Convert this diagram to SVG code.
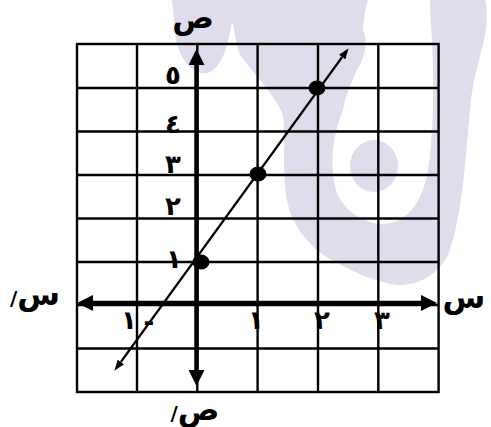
<svg xmlns="http://www.w3.org/2000/svg" width="491" height="427" viewBox="0 0 491 427">
<style>
.grid{stroke:#000;stroke-width:2.4;fill:none}
.axis{stroke:#000;stroke-width:4.5;fill:none}
.lin{stroke:#000;stroke-width:2.4;fill:none}
.dot{fill:#000}
.num{font-family:"DejaVu Sans",sans-serif;font-weight:bold;font-size:26px;fill:#000;text-anchor:middle}
.lbl{font-family:"DejaVu Sans",sans-serif;font-weight:bold;font-size:31px;fill:#000;text-anchor:middle}
.pr{font-size:20px}
.wm{fill:#e0dcec}
</style>
<defs>
<marker id="axArrow" viewBox="0 0 16 16" refX="0" refY="8" markerWidth="16" markerHeight="16" markerUnits="userSpaceOnUse" orient="auto-start-reverse"><path d="M0,0 L16,8 L0,16 Z" fill="#000"/></marker>
<marker id="lnArrow" viewBox="0 0 11 8" refX="0" refY="4" markerWidth="11" markerHeight="8" markerUnits="userSpaceOnUse" orient="auto-start-reverse"><path d="M0,0 L11,4 L0,8 Z" fill="#000"/></marker>
</defs>
<g id="watermark">
<path class="wm" d="M172,0 L368,0 C364,12 364,22 363,30 C368,40 366,55 357,70 C350,85 345,98 343,110 C335,130 331,150 333,175 C335,200 350,218 378,224 C405,226 422,205 428,170 C434,130 434,80 432,40 C431,25 430,12 430,0 L485,0 C492,30 476,60 471,100 C465,160 463,215 448,255 C435,280 410,288 390,284 C365,278 345,268 325,256 C305,242 290,222 286,195 C282,165 286,140 283,115 C275,95 255,75 240,55 C236,45 235,30 232,22 C228,40 226,62 210,72 C195,78 180,60 176,40 Z"/>
<ellipse class="wm" cx="374" cy="166" rx="24" ry="26"/>
</g>
<g id="grid">
<rect class="grid" x="77" y="44" width="361.6" height="348"/>
<path class="grid" d="M137,44V392 M197.3,44V392 M257.6,44V392 M318,44V392 M378.3,44V392 M77,88H438.6 M77,131.5H438.6 M77,175H438.6 M77,218.5H438.6 M77,262H438.6 M77,305H438.6 M77,348.5H438.6"/>
</g>
<g id="axes">
<line class="axis" x1="196.5" y1="65" x2="196.5" y2="370" marker-start="url(#axArrow)" marker-end="url(#axArrow)"/>
<line class="axis" x1="93" y1="303" x2="421" y2="303" marker-start="url(#axArrow)" marker-end="url(#axArrow)"/>
</g>
<g id="connectors">
<line class="lin" x1="120.9" y1="361.9" x2="342.1" y2="57.1" marker-start="url(#lnArrow)" marker-end="url(#lnArrow)"/>
</g>
<g id="points">
<ellipse class="dot" cx="201" cy="262" rx="8.5" ry="7.5"/>
<ellipse class="dot" cx="258" cy="174" rx="8.5" ry="7.5"/>
<ellipse class="dot" cx="317" cy="88" rx="8.5" ry="7.5"/>
</g>
<g id="y-labels">
<text class="num" x="173" y="84">٥</text>
<text class="num" x="173" y="133">٤</text>
<text class="num" x="173" y="173">٣</text>
<text class="num" x="173" y="215">٢</text>
<text class="num" x="174" y="268">١</text>
</g>
<g id="x-labels">
<text class="num" x="129" y="329">١</text>
<text class="num" x="149" y="331">-</text>
<text class="num" x="256" y="329">١</text>
<text class="num" x="322" y="329">٢</text>
<text class="num" x="382" y="329">٣</text>
</g>
<g id="axis-names">
<text class="lbl" x="193" y="28">ص</text>
<text class="lbl" x="195" y="420"><tspan class="pr">/</tspan>ص</text>
<text class="lbl" x="464" y="308">س</text>
<text class="lbl" x="35" y="305"><tspan class="pr">/</tspan>س</text>
</g>
</svg>
